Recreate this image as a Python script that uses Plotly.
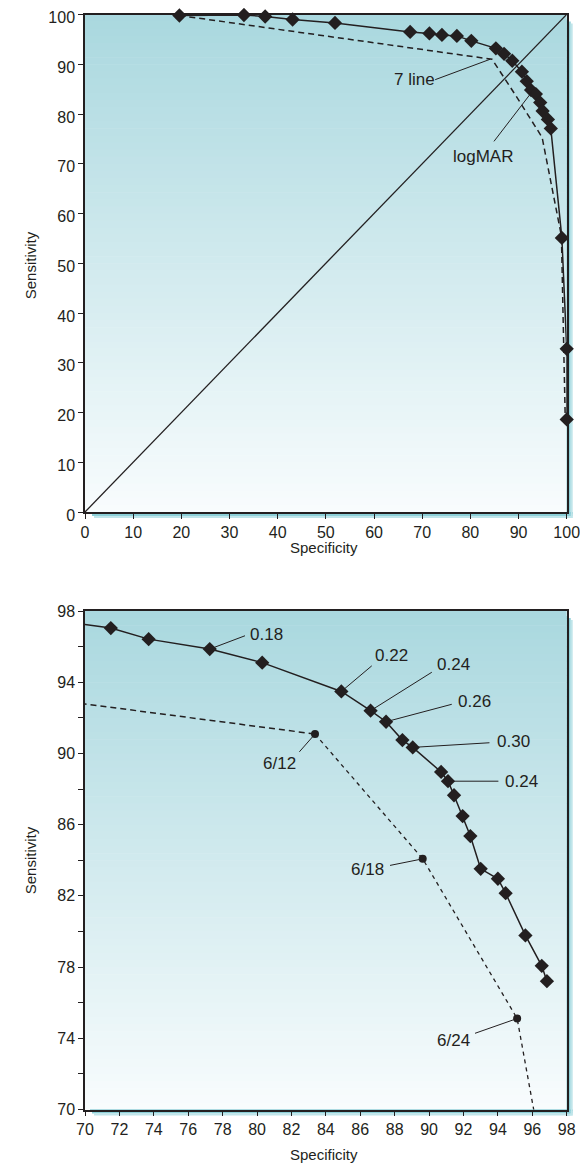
import plotly.graph_objects as go

# ---------------- data ----------------
# Top panel (full ROC) : logMAR curve
top_logmar_spec = [19.6, 33.0, 37.4, 43.1, 51.9, 67.5, 71.5, 74.1, 77.2, 80.2, 85.3, 87.0, 88.7,
                   90.7, 91.7, 92.6, 93.6, 94.5, 95.0, 96.1, 96.7, 99.0, 100.0, 100.0]
top_logmar_sens = [99.8, 99.9, 99.6, 99.0, 98.3, 96.5, 96.2, 95.9, 95.7, 94.7, 93.2, 92.1, 90.7,
                   88.5, 86.6, 84.8, 84.0, 82.3, 80.6, 78.9, 77.1, 55.1, 32.8, 18.6]
# Top panel : 7 line (Snellen) curve
top_line7_spec = [19.6, 84.5, 89.5, 94.9, 98.9, 99.7]
top_line7_sens = [99.8, 91.0, 83.6, 75.3, 55.5, 18.5]
# Chance diagonal
diag_spec = [0, 100]
diag_sens = [0, 100]

# Bottom panel (magnified) : logMAR curve
zoom_logmar_spec = [67.6, 71.5, 73.7, 77.25, 80.3, 84.9, 86.6, 87.5, 88.45, 89.05, 90.7, 91.1, 91.45,
                    91.95, 92.4, 93.0, 94.0, 94.45, 95.6, 96.55, 96.85]
zoom_logmar_sens = [97.55, 97.04, 96.42, 95.86, 95.1, 93.48, 92.4, 91.78, 90.75, 90.34, 88.96, 88.44, 87.65,
                    86.48, 85.36, 83.52, 82.96, 82.15, 79.78, 78.07, 77.21]
# Bottom panel : 7 line (Snellen) curve
zoom_line7_spec = [19.6, 83.37, 89.63, 95.12, 98.9]
zoom_line7_sens = [99.15, 91.09, 84.08, 75.11, 55.0]
zoom_line7_labels = ["", "6/12", "6/18", "6/24", ""]

# logMAR cut-off labels (index into zoom_logmar arrays)
logmar_label_idx = [3, 5, 6, 7, 9, 11]
logmar_labels = ["0.18", "0.22", "0.24", "0.26", "0.30", "0.24"]

top_ticks = list(range(0, 101, 10))
zoom_xticks = list(range(70, 99, 2))
zoom_yticks = list(range(70, 99, 2))

# ---------------- layout geometry ----------------
# the page body has an 8px margin, so the figure is drawn 8px in from the window corner
OFF = 8
W, H = 588 - 2 * OFF, 1173 - 2 * OFF
INK = "#231f20"
FONT = "Liberation Sans, Arial, sans-serif"


def px(x):
    return (x - OFF) / W


def py(y):
    return 1 - (y - OFF) / H


L, R = 85, 566.7
TOP_T, TOP_B = 14.5, 512
BOT_T, BOT_B = 611, 1109.5

fig = go.Figure()

# diagonal
fig.add_trace(go.Scatter(x=diag_spec, y=diag_sens, mode="lines",
                         line=dict(color=INK, width=1.3), xaxis="x", yaxis="y",
                         hoverinfo="skip", showlegend=False))
# top 7 line
fig.add_trace(go.Scatter(x=top_line7_spec, y=top_line7_sens, mode="lines",
                         line=dict(color=INK, width=1.5, dash="6px,4px"), xaxis="x", yaxis="y",
                         showlegend=False))
# top logMAR
fig.add_trace(go.Scatter(x=top_logmar_spec, y=top_logmar_sens, mode="lines+markers",
                         line=dict(color=INK, width=1.5),
                         marker=dict(symbol="diamond", size=11, color=INK),
                         cliponaxis=False, xaxis="x", yaxis="y", showlegend=False))

# bottom 7 line : long dashes up to 6/12, short dashes after
fig.add_trace(go.Scatter(x=zoom_line7_spec[:2], y=zoom_line7_sens[:2], mode="lines",
                         line=dict(color=INK, width=1.5, dash="6px,4px"),
                         xaxis="x2", yaxis="y2", showlegend=False))
fig.add_trace(go.Scatter(x=zoom_line7_spec[1:], y=zoom_line7_sens[1:], mode="lines",
                         line=dict(color=INK, width=1.3, dash="4px,4px"),
                         xaxis="x2", yaxis="y2", showlegend=False))
fig.add_trace(go.Scatter(x=zoom_line7_spec[1:4], y=zoom_line7_sens[1:4], mode="markers",
                         marker=dict(symbol="circle", size=8, color=INK),
                         xaxis="x2", yaxis="y2", showlegend=False))
# bottom logMAR
fig.add_trace(go.Scatter(x=zoom_logmar_spec, y=zoom_logmar_sens, mode="lines+markers",
                         line=dict(color=INK, width=1.5),
                         marker=dict(symbol="diamond", size=11, color=INK),
                         xaxis="x2", yaxis="y2", showlegend=False))

shapes = []


def gradient(top_px, bot_px, n=70):
    c0 = (170, 216, 223)
    c1 = (248, 252, 253)
    h = (bot_px - top_px) / n
    for i in range(n):
        t = i / (n - 1)
        c = tuple(round(c0[k] + (c1[k] - c0[k]) * t) for k in range(3))
        shapes.append(dict(type="rect", xref="paper", yref="paper", layer="below",
                           x0=px(L), x1=px(R), y0=py(min(top_px + h * (i + 1) + 0.6, bot_px)),
                           y1=py(top_px + h * i),
                           fillcolor="rgb(%d,%d,%d)" % c, line=dict(width=0)))
    # drop shadow right and bottom
    cols = ["#5fb8c3", "#8ccfd7", "#c0e5ea"]
    for j, col in enumerate(cols):
        shapes.append(dict(type="rect", xref="paper", yref="paper", layer="below",
                           x0=px(R + 2 * j), x1=px(R + 2 * j + 2), y0=py(bot_px + 6), y1=py(top_px + 5 + 2 * j),
                           fillcolor=col, line=dict(width=0)))
        shapes.append(dict(type="rect", xref="paper", yref="paper", layer="below",
                           x0=px(L + 5 + 2 * j), x1=px(R + 6), y0=py(bot_px + 2 * j + 2), y1=py(bot_px + 2 * j),
                           fillcolor=col, line=dict(width=0)))


gradient(TOP_T, TOP_B)
gradient(BOT_T, BOT_B)

annotations = []
lab_font = dict(family=FONT, size=17, color=INK)

# top panel labels
shapes.append(dict(type="line", xref="x", yref="y", x0=72.7, y0=86.9, x1=84.1, y1=91.0,
                   line=dict(color=INK, width=1)))
annotations.append(dict(x=68.4, y=86.9, xref="x", yref="y", text="7 line", showarrow=False,
                        font=lab_font, xanchor="center", yanchor="middle"))
shapes.append(dict(type="line", xref="x", yref="y", x0=84.9, y0=74.5, x1=92.75, y1=84.4,
                   line=dict(color=INK, width=1)))
annotations.append(dict(x=82.7, y=71.4, xref="x", yref="y", text="logMAR", showarrow=False,
                        font=lab_font, xanchor="center", yanchor="middle"))

# bottom panel logMAR labels
lead_end = [(79.3, 96.61), (86.67, 94.92), (90.16, 94.56), (91.32, 92.76), (93.51, 90.6), (94.03, 88.44)]
text_pos = [(79.5, 96.66), (86.74, 95.48), (90.35, 94.98), (91.54, 92.91), (93.84, 90.69), (94.29, 88.40)]
for k, idx in enumerate(logmar_label_idx):
    shapes.append(dict(type="line", xref="x2", yref="y2",
                       x0=zoom_logmar_spec[idx], y0=zoom_logmar_sens[idx],
                       x1=lead_end[k][0], y1=lead_end[k][1], line=dict(color=INK, width=1)))
    annotations.append(dict(x=text_pos[k][0], y=text_pos[k][1], xref="x2", yref="y2",
                            text=logmar_labels[k], showarrow=False, font=lab_font,
                            xanchor="left", yanchor="middle"))

# bottom panel Snellen labels
s_lead_end = {1: (82.46, 90.09), 2: (87.73, 83.71), 3: (92.67, 74.28)}
s_text_pos = {1: (82.4, 89.44), 2: (87.5, 83.46), 3: (92.48, 73.85)}
for idx in (1, 2, 3):
    shapes.append(dict(type="line", xref="x2", yref="y2",
                       x0=zoom_line7_spec[idx], y0=zoom_line7_sens[idx],
                       x1=s_lead_end[idx][0], y1=s_lead_end[idx][1], line=dict(color=INK, width=1)))
    annotations.append(dict(x=s_text_pos[idx][0], y=s_text_pos[idx][1], xref="x2", yref="y2",
                            text=zoom_line7_labels[idx], showarrow=False, font=lab_font,
                            xanchor="right", yanchor="middle"))

# axis titles
title_font = dict(family=FONT, size=15, color=INK)
annotations += [
    dict(x=px((L + R) / 2 - 2), y=py(547), xref="paper", yref="paper", text="Specificity",
         showarrow=False, font=title_font, xanchor="center", yanchor="middle"),
    dict(x=px((L + R) / 2 - 2), y=py(1154), xref="paper", yref="paper", text="Specificity",
         showarrow=False, font=title_font, xanchor="center", yanchor="middle"),
    dict(x=px(30), y=py((TOP_T + TOP_B) / 2 + 2), xref="paper", yref="paper", text="Sensitivity",
         showarrow=False, font=title_font, textangle=-90, xanchor="center", yanchor="middle"),
    dict(x=px(30), y=py((BOT_T + BOT_B) / 2), xref="paper", yref="paper", text="Sensitivity",
         showarrow=False, font=title_font, textangle=-90, xanchor="center", yanchor="middle"),
]

axis_common = dict(showgrid=False, zeroline=False, showline=True, mirror=True,
                   linecolor=INK, linewidth=1.5, ticks="outside", ticklen=5,
                   tickwidth=1.2, tickcolor=INK, automargin=False,
                   ticklabeloverflow="allow",
                   tickfont=dict(family=FONT, size=16, color=INK))

fig.update_layout(
    width=W, height=H,
    margin=dict(l=0, r=0, t=0, b=0),
    paper_bgcolor="white", plot_bgcolor="rgba(0,0,0,0)",
    showlegend=False,
    xaxis=dict(domain=[px(L), px(R)], range=[0, 100], tickvals=top_ticks, anchor="y", **axis_common),
    yaxis=dict(domain=[py(TOP_B), py(TOP_T)], range=[0, 100], tickvals=top_ticks, anchor="x",
               ticklabelshift=3, **axis_common),
    xaxis2=dict(domain=[px(L), px(R)], range=[70, 98], tickvals=zoom_xticks, anchor="y2", **axis_common),
    yaxis2=dict(domain=[py(BOT_B), py(BOT_T)], range=[70, 98], tickvals=zoom_yticks,
                ticktext=[str(v) if (v - 70) % 4 == 0 else "" for v in zoom_yticks],
                anchor="x2", **axis_common),
    shapes=shapes,
    annotations=annotations,
)

fig.write_html("out.html")
